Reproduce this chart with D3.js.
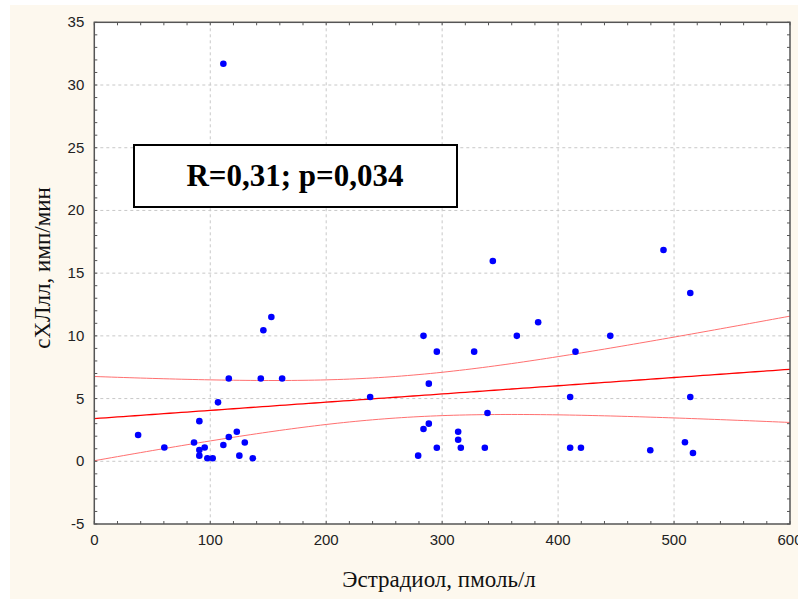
<!DOCTYPE html>
<html lang="ru">
  <head>
    <meta charset="UTF-8" />
    <title>Эстрадиол vs сХЛлл</title>
    <style>
      html, body { margin: 0; padding: 0; background: #ffffff; }
      svg { display: block; }
      .tick-label { font-family: "Liberation Sans", Arial, sans-serif; font-size: 15px; fill: #222; }
      .axis-title { font-family: "Liberation Serif", "Times New Roman", serif; font-size: 23px; fill: #111; }
    </style>
    <script src="https://cdn.jsdelivr.net/npm/d3@7"></script>
  </head>
  <body>
    <script>
      // data
      const estradiol = [
        37.8, 60.4, 86, 90.6, 90.6, 90.6, 95.2, 97.5, 102.1, 106.7, 111.3, 116, 116,
        122.9, 125.1, 129.8, 136.7, 143.6, 145.8, 152.7, 162, 237.9, 111.3,
        283.9, 295.4, 327.6, 364.4, 382.8, 445, 415, 288.5, 410.4, 514, 339.1,
        283.9, 288.5, 313.8, 313.8, 295.4, 316.1, 336.8, 279.3, 410.4, 419.7,
        479.5, 509.4, 516.3, 343.7, 490.9, 514
      ];
      const chl = [
        2.1, 1.1, 1.5, 3.2, 0.9, 0.45, 1.1, 0.24, 0.24, 4.7, 1.3, 6.6, 1.94,
        2.36, 0.45, 1.5, 0.24, 6.6, 10.45, 11.5, 6.6, 5.13, 31.7,
        10.0, 8.74, 8.74, 10.0, 11.08, 10.0, 8.74, 6.19, 5.13, 5.13, 3.85,
        2.58, 3.0, 2.36, 1.72, 1.08, 1.08, 1.08, 0.45, 1.08, 1.08,
        0.88, 1.52, 0.66, 15.97, 16.85, 13.42
      ];
      const xTicks = [0, 100, 200, 300, 400, 500, 600];
      const yTicks = [-5, 0, 5, 10, 15, 20, 25, 30, 35];
      const statText = "R=0,31; p=0,034";
      const tCrit = 2.01;

      const width = 798;
      const height = 599;
      const margin = { top: 22.3, right: 8, bottom: 75, left: 94.3 };

      const svg = d3.select("body").append("svg")
        .attr("width", width)
        .attr("height", height);

      svg.append("rect")
        .attr("x", 10).attr("y", 5)
        .attr("width", width - 10).attr("height", height - 5)
        .attr("fill", "#fdf8ee");

      const x = d3.scaleLinear().domain([0, 600]).range([margin.left, width - margin.right]);
      const y = d3.scaleLinear().domain([-5, 35]).range([height - margin.bottom, margin.top]);

      const x0 = x.range()[0], x1 = x.range()[1];
      const y0 = y.range()[1], y1 = y.range()[0];

      svg.append("rect")
        .attr("x", x0).attr("y", y0)
        .attr("width", x1 - x0).attr("height", y1 - y0)
        .attr("fill", "#ffffff");

      // grid
      const grid = svg.append("g").attr("stroke", "#c8c8c8").attr("stroke-dasharray", "3,3");
      grid.selectAll(".gx").data(xTicks.slice(1, -1)).join("line")
        .attr("x1", d => x(d)).attr("x2", d => x(d))
        .attr("y1", y0).attr("y2", y1);
      grid.selectAll(".gy").data(yTicks.slice(1, -1)).join("line")
        .attr("y1", d => y(d)).attr("y2", d => y(d))
        .attr("x1", x0).attr("x2", x1);

      // regression + 95% bands from the data
      const n = estradiol.length;
      const mx = d3.mean(estradiol), my = d3.mean(chl);
      let sxx = 0, sxy = 0;
      for (let i = 0; i < n; i++) {
        sxx += (estradiol[i] - mx) ** 2;
        sxy += (estradiol[i] - mx) * (chl[i] - my);
      }
      const slope = sxy / sxx;
      const icpt = my - slope * mx;
      let sse = 0;
      for (let i = 0; i < n; i++) sse += (chl[i] - icpt - slope * estradiol[i]) ** 2;
      const se = Math.sqrt(sse / (n - 2));
      const xs = d3.range(0, 600.1, 5);
      const half = v => tCrit * se * Math.sqrt(1 / n + (v - mx) ** 2 / sxx);

      const line = d3.line().x(d => x(d[0])).y(d => y(d[1]));
      svg.append("path")
        .attr("d", line(xs.map(v => [v, icpt + slope * v + half(v)])))
        .attr("fill", "none").attr("stroke", "#ff7070").attr("stroke-width", 1);
      svg.append("path")
        .attr("d", line(xs.map(v => [v, icpt + slope * v - half(v)])))
        .attr("fill", "none").attr("stroke", "#ff7070").attr("stroke-width", 1);
      svg.append("path")
        .attr("d", line(xs.map(v => [v, icpt + slope * v])))
        .attr("fill", "none").attr("stroke", "#ff0000").attr("stroke-width", 1.3);

      // points
      svg.append("g").selectAll("circle").data(estradiol).join("circle")
        .attr("cx", d => x(d))
        .attr("cy", (d, i) => y(chl[i]))
        .attr("r", 3.3)
        .attr("fill", "#0000ff");

      // frame with inward ticks
      const frameColor = "#555";
      const xMinor = d3.range(0, 600.1, 20);
      const yMinor = d3.range(-5, 35.1, 1);
      const tk = svg.append("g").attr("stroke", frameColor).attr("stroke-width", 1);
      tk.selectAll(".tb").data(xMinor).join("line")
        .attr("x1", d => x(d)).attr("x2", d => x(d))
        .attr("y1", y1).attr("y2", y1 - 3);
      tk.selectAll(".tt").data(xMinor).join("line")
        .attr("x1", d => x(d)).attr("x2", d => x(d))
        .attr("y1", y0).attr("y2", y0 + 3);
      tk.selectAll(".tl").data(yMinor).join("line")
        .attr("y1", d => y(d)).attr("y2", d => y(d))
        .attr("x1", x0).attr("x2", x0 + 3);
      tk.selectAll(".tr").data(yMinor).join("line")
        .attr("y1", d => y(d)).attr("y2", d => y(d))
        .attr("x1", x1).attr("x2", x1 - 3);

      svg.append("rect")
        .attr("x", x0).attr("y", y0)
        .attr("width", x1 - x0).attr("height", y1 - y0)
        .attr("fill", "none").attr("stroke", frameColor).attr("stroke-width", 1.5);

      // tick labels
      svg.append("g").selectAll("text").data(xTicks).join("text")
        .attr("class", "tick-label")
        .attr("x", d => x(d)).attr("y", y1 + 21)
        .attr("text-anchor", "middle")
        .text(d => d);
      svg.append("g").selectAll("text").data(yTicks).join("text")
        .attr("class", "tick-label")
        .attr("x", x0 - 10).attr("y", d => y(d) + 5)
        .attr("text-anchor", "end")
        .text(d => d);

      // axis titles
      svg.append("text")
        .attr("class", "axis-title")
        .attr("x", 439).attr("y", 587)
        .attr("text-anchor", "middle")
        .text("Эстрадиол, пмоль/л");
      svg.append("text")
        .attr("class", "axis-title")
        .attr("transform", "translate(50, 268) rotate(-90)")
        .attr("text-anchor", "middle")
        .text("сХЛлл, имп/мин");

      // stats box
      svg.append("rect")
        .attr("x", 134).attr("y", 145)
        .attr("width", 323).attr("height", 62)
        .attr("fill", "#ffffff").attr("stroke", "#000").attr("stroke-width", 2);
      svg.append("text")
        .attr("x", 295).attr("y", 186)
        .attr("text-anchor", "middle")
        .attr("font-family", "'Liberation Serif', 'Times New Roman', serif")
        .attr("font-weight", "bold")
        .attr("font-size", 31)
        .text(statText);
    </script>
  </body>
</html>
